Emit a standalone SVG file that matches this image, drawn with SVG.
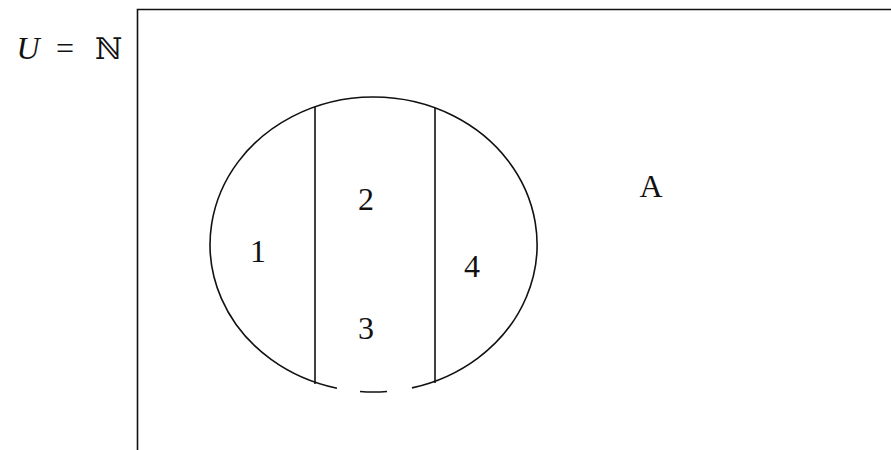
<svg xmlns="http://www.w3.org/2000/svg" width="891" height="450" viewBox="0 0 891 450">
<style>
.ln{fill:none;stroke:#111;stroke-width:1.6}
.t{font-family:"Liberation Serif","DejaVu Serif",serif;font-size:32px;fill:#111;text-anchor:middle}
</style>
<rect width="891" height="450" fill="#fff"/>
<g id="universe">
<path class="ln" d="M137.5,450 V9.5 H891"/>
<text class="t" x="28" y="59" font-style="italic">U</text>
<text class="t" x="65" y="59">=</text>
<text x="95" y="59" font-family="DejaVu Serif,serif" font-size="30" fill="#111">ℕ</text>
<text class="t" x="651" y="197">A</text>
</g>
<g id="setA">
<path class="ln" d="M337,388.3 A163.5,147.5 0 1 1 412,387.9"/>
<path class="ln" d="M360,391.5 A163.5,147.5 0 0 0 387,391.5"/>
</g>
<g id="connectors">
<line class="ln" x1="315" y1="106.8" x2="315" y2="384"/>
<line class="ln" x1="435" y1="107.8" x2="435" y2="383"/>
</g>
<g id="region1"><text class="t" x="258" y="262">1</text></g>
<g id="region2"><text class="t" x="366" y="210">2</text></g>
<g id="region3"><text class="t" x="366" y="339">3</text></g>
<g id="region4"><text class="t" x="472" y="277">4</text></g>
</svg>
